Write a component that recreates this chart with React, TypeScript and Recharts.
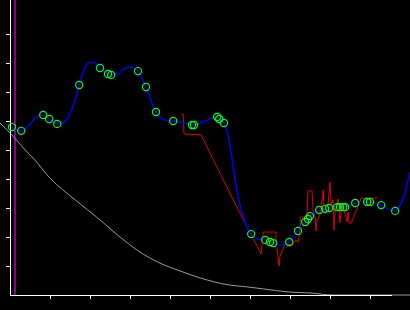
import { ComposedChart, Line, Scatter, XAxis, YAxis, ReferenceLine } from "recharts";

// smooth blue trace (x, y in axis units)
const blueX = [0.05, 0.28, 0.5, 0.68, 0.83, 0.98, 1.18, 1.33, 1.48, 1.63, 1.73, 1.85, 2.0, 2.13, 2.25, 2.45, 2.53, 2.7, 2.85, 2.98, 3.08, 3.2, 3.4, 3.65, 3.88, 4.08, 4.35, 4.55, 4.6, 4.88, 5.18, 5.23, 5.35, 5.45, 5.55, 5.65, 5.75, 5.88, 6.03, 6.2, 6.38, 6.5, 6.58, 6.75, 6.98, 7.2, 7.38, 7.45, 7.5, 7.63, 7.73, 7.88, 7.98, 8.18, 8.25, 8.33, 8.38, 8.63, 8.8, 8.93, 9.0, 9.28, 9.45, 9.63, 9.75, 9.88, 10.0];
const blueY = [5.79, 5.66, 5.9, 6.17, 6.21, 6.07, 5.9, 5.93, 6.21, 6.72, 7.24, 7.76, 8.03, 8.0, 7.83, 7.62, 7.59, 7.62, 7.79, 7.86, 7.83, 7.72, 7.17, 6.31, 6.03, 6.0, 5.93, 5.86, 5.86, 6.0, 6.14, 6.07, 5.93, 5.52, 4.72, 3.79, 3.1, 2.48, 2.1, 1.93, 1.9, 1.83, 1.79, 1.72, 1.83, 2.21, 2.52, 2.62, 2.72, 2.86, 2.93, 2.97, 3.0, 3.03, 3.03, 3.03, 3.03, 3.17, 3.21, 3.21, 3.21, 3.1, 2.97, 2.9, 3.1, 3.55, 4.24];

// green sample markers on the blue trace
const markX = [0.05, 0.28, 0.83, 0.98, 1.18, 1.73, 2.25, 2.45, 2.53, 3.2, 3.4, 3.65, 4.08, 4.55, 4.6, 5.18, 5.23, 5.35, 6.03, 6.38, 6.5, 6.58, 6.98, 7.2, 7.38, 7.45, 7.5, 7.73, 7.88, 7.98, 8.18, 8.25, 8.33, 8.38, 8.63, 8.93, 9.0, 9.28, 9.63];
const markY = [5.79, 5.66, 6.21, 6.07, 5.9, 7.24, 7.83, 7.62, 7.59, 7.72, 7.17, 6.31, 6.0, 5.86, 5.86, 6.14, 6.07, 5.93, 2.1, 1.9, 1.83, 1.79, 1.83, 2.21, 2.52, 2.62, 2.72, 2.93, 2.97, 3.0, 3.03, 3.03, 3.03, 3.03, 3.17, 3.21, 3.21, 3.1, 2.9];

// noisy red trace
const redX = [4.28, 4.33, 4.35, 4.78, 5.58, 6.28, 6.33, 6.65, 6.65, 6.68, 6.7, 6.73, 6.75, 6.88, 7.05, 7.15, 7.2, 7.23, 7.25, 7.26, 7.38, 7.43, 7.45, 7.55, 7.58, 7.63, 7.65, 7.68, 7.75, 7.83, 7.85, 7.9, 7.95, 8.0, 8.03, 8.08, 8.1, 8.13, 8.2, 8.25, 8.3, 8.35, 8.43, 8.45, 8.48, 8.53, 8.78, 9.18];
const redY = [6.24, 6.24, 5.55, 5.52, 3.28, 1.41, 2.17, 2.17, 1.62, 1.59, 1.31, 1.0, 1.34, 1.76, 1.72, 1.9, 1.83, 2.03, 2.24, 2.69, 2.69, 2.86, 3.59, 3.59, 2.86, 2.69, 2.21, 2.59, 2.76, 3.62, 2.93, 2.86, 3.1, 3.9, 3.14, 3.28, 2.24, 2.93, 3.31, 2.48, 3.1, 2.93, 2.52, 2.86, 2.48, 2.48, 3.34, 3.34];

// grey decay curve
const greyX = [-0.25, 0, 0.38, 0.58, 1.0, 1.63, 2.25, 2.75, 3.25, 3.75, 4.25, 4.75, 5.5, 5.93, 6.33, 7.0, 7.5, 8.08, 10.0];
const greyY = [5.93, 5.59, 5.0, 4.72, 4.03, 3.28, 2.59, 2.0, 1.48, 1.1, 0.83, 0.59, 0.34, 0.28, 0.21, 0.1, 0.07, 0, 0];

const xTicks = [1, 2, 3, 4, 5, 6, 7, 8, 9];
const yTicks = [1, 2, 3, 4, 5, 6, 7, 8, 9];
const markerX = 0.125;

const zip = (xs: number[], ys: number[]) => xs.map((x, i) => ({ x, y: ys[i] }));

const blue = zip(blueX, blueY);
const marks = zip(markX, markY);
const red = zip(redX, redY);
const grey = zip(greyX, greyY);

const ring = (p: any) => (
  <circle cx={p.cx} cy={p.cy} r={3.6} fill="none" stroke="#00ff00" strokeWidth={1.2} />
);

const noLabel = () => "";
const crisp = { stroke: "#fff", shapeRendering: "crispEdges" };

export default function App() {
  return (
    <div style={{ position: "absolute", left: 0, top: 0, width: 410, height: 310, background: "#000" }}>
      <ComposedChart width={410} height={310} margin={{ top: 0, right: 18, bottom: 0, left: 0 }}>
        <XAxis
          type="number"
          dataKey="x"
          domain={[-0.25, 10]}
          padding={{ left: -10, right: -18 }}
          ticks={xTicks}
          tickFormatter={noLabel}
          tickSize={4}
          height={15}
          axisLine={crisp}
          tickLine={crisp}
        />
        <YAxis
          type="number"
          dataKey="y"
          domain={[0, 295 / 29]}
          ticks={yTicks}
          tickFormatter={noLabel}
          tickSize={4}
          width={10}
          axisLine={crisp}
          tickLine={crisp}
        />
        <ReferenceLine x={markerX} stroke="#8a008a" strokeWidth={1.5} shapeRendering="crispEdges" />
        <Line data={grey} dataKey="y" type="monotone" stroke="#9a9a9a" strokeWidth={1} dot={false} isAnimationActive={false} />
        <Line data={red} dataKey="y" type="linear" stroke="#dd0000" strokeWidth={1} dot={false} isAnimationActive={false} />
        <Line data={blue} dataKey="y" type="monotone" stroke="#0000ff" strokeWidth={1.4} dot={false} isAnimationActive={false} />
        <Scatter data={marks} dataKey="y" shape={ring} isAnimationActive={false} />
      </ComposedChart>
    </div>
  );
}
